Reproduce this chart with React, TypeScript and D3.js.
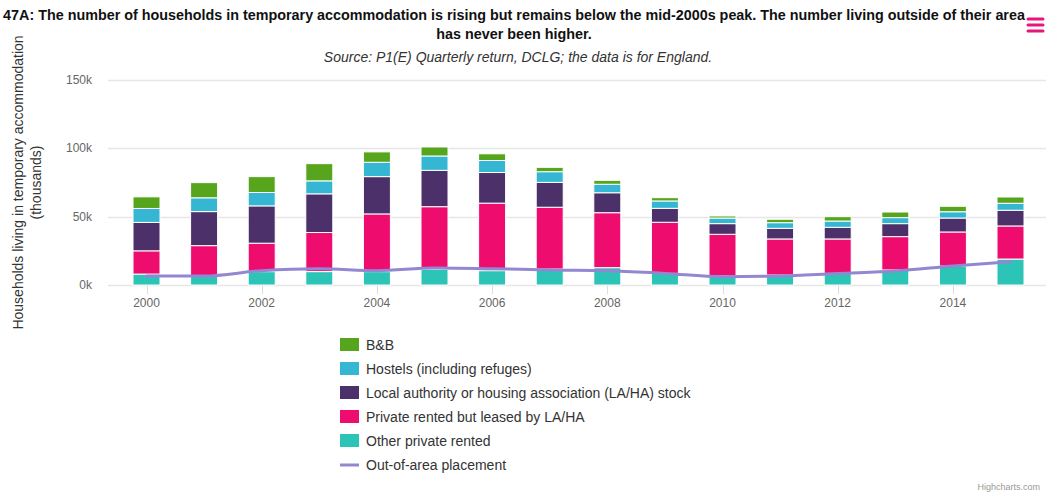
import React, {useRef, useEffect} from 'react';
import * as d3 from 'd3';

const years = [2000, 2001, 2002, 2003, 2004, 2005, 2006, 2007, 2008, 2009, 2010, 2011, 2012, 2013, 2014, 2015];

// thousands of households
const bnb = [8.5, 11.1, 11.6, 12.6, 7.6, 6.6, 4.9, 3.2, 2.9, 2.4, 1.5, 2.5, 3.2, 4.1, 4.0, 4.6];
const hostels = [10.2, 10.1, 9.8, 9.5, 10.5, 10.5, 8.8, 7.8, 6.2, 5.4, 4.1, 4.1, 4.6, 4.4, 4.6, 5.1];
const lahaStock = [20.8, 24.9, 27.3, 28.3, 27.3, 26.6, 22.4, 18.2, 14.6, 10.2, 7.8, 7.8, 8.5, 9.5, 10.2, 11.5];
const leased = [17.0, 22.2, 20.8, 28.6, 42.2, 45.9, 49.4, 45.2, 40.2, 37.4, 30.5, 26.4, 25.2, 24.4, 24.9, 24.2];
const otherPrivate = [8.0, 6.6, 9.8, 9.8, 9.8, 11.4, 10.5, 11.7, 12.7, 8.5, 6.6, 7.3, 8.5, 11.0, 13.9, 19.0];
const outOfArea = [6.6, 6.6, 10.5, 11.9, 10.5, 12.4, 11.9, 11.0, 10.5, 8.5, 6.1, 6.6, 8.5, 10.2, 13.9, 17.1];

const yTicks = [0, 50, 100, 150];
const xTicks = [2000, 2002, 2004, 2006, 2008, 2010, 2012, 2014];

// stacking order, bottom first
const barSeries = [
    {key: 'other', name: 'Other private rented', values: otherPrivate, color: '#2bc4b6'},
    {key: 'leased', name: 'Private rented but leased by LA/HA', values: leased, color: '#ee0c6f'},
    {key: 'laha', name: 'Local authority or housing association (LA/HA) stock', values: lahaStock, color: '#4b3069'},
    {key: 'hostels', name: 'Hostels (including refuges)', values: hostels, color: '#35b6d3'},
    {key: 'bnb', name: 'B&B', values: bnb, color: '#57a51d'},
];
const lineName = 'Out-of-area placement';
const lineColor = '#9188d1';

const WIDTH = 1046;
const HEIGHT = 494;
const FONT = '"Liberation Sans", Arial, Helvetica, sans-serif';

const App: React.FC = () => {
    const svgRef = useRef<SVGSVGElement>(null);

    useEffect(() => {
        if (!svgRef.current) return;
        const svg = d3.select(svgRef.current);
        svg.selectAll('*').remove();

        const plotLeft = 108;
        const plotRight = WIDTH;
        const plotTop = 80;
        const plotBottom = 285;

        const x = d3.scaleLinear().domain([2000, 2015]).range([146.5, 1010.5]);
        const y = d3.scaleLinear().domain([0, 150]).range([plotBottom, plotTop]);
        const barWidth = 27;

        // title + subtitle
        const title = svg.append('text')
            .attr('text-anchor', 'middle')
            .style('font-family', FONT)
            .style('font-size', '14.35px')
            .style('font-weight', 'bold')
            .style('fill', '#111');
        title.append('tspan').attr('x', 514).attr('y', 20)
            .text('47A: The number of households in temporary accommodation is rising but remains below the mid-2000s peak. The number living outside of their area');
        title.append('tspan').attr('x', 514).attr('y', 39)
            .text('has never been higher.');

        svg.append('text')
            .attr('x', 518)
            .attr('y', 62)
            .attr('text-anchor', 'middle')
            .style('font-family', FONT)
            .style('font-size', '14px')
            .style('font-style', 'italic')
            .style('fill', '#333')
            .text('Source: P1(E) Quarterly return, DCLG; the data is for England.');

        // menu button
        const menu = svg.append('g').attr('stroke', '#e8157b').attr('stroke-width', 3).attr('stroke-linecap', 'round');
        [19, 25, 31].forEach(yy => {
            menu.append('line').attr('x1', 1028).attr('x2', 1043).attr('y1', yy).attr('y2', yy);
        });

        // gridlines
        svg.append('g')
            .selectAll('line')
            .data(yTicks)
            .enter()
            .append('line')
            .attr('x1', plotLeft)
            .attr('x2', plotRight)
            .attr('y1', d => Math.round(y(d)) + 0.5)
            .attr('y2', d => Math.round(y(d)) + 0.5)
            .attr('stroke', '#e6e6e6')
            .attr('stroke-width', 1.5);

        svg.append('g')
            .selectAll('text')
            .data(yTicks)
            .enter()
            .append('text')
            .attr('x', 92)
            .attr('y', d => y(d) + 4)
            .attr('text-anchor', 'end')
            .style('font-family', FONT)
            .style('font-size', '12px')
            .style('fill', '#666')
            .text(d => `${d}k`);

        // y axis title
        const yTitle = svg.append('text')
            .attr('transform', `translate(0, ${(plotTop + plotBottom) / 2}) rotate(-90)`)
            .attr('text-anchor', 'middle')
            .style('font-family', FONT)
            .style('font-size', '14px')
            .style('fill', '#333');
        yTitle.append('tspan').attr('x', 0).attr('y', 23).text('Households living in temporary accommodation');
        yTitle.append('tspan').attr('x', 0).attr('y', 41).text('(thousands)');

        // x axis ticks
        const xAxis = svg.append('g');
        xAxis.selectAll('line')
            .data(xTicks)
            .enter()
            .append('line')
            .attr('x1', d => Math.round(x(d)) + 0.5)
            .attr('x2', d => Math.round(x(d)) + 0.5)
            .attr('y1', plotBottom)
            .attr('y2', plotBottom + 9)
            .attr('stroke', '#ddd')
            .attr('stroke-width', 1);
        xAxis.selectAll('text')
            .data(xTicks)
            .enter()
            .append('text')
            .attr('x', d => x(d))
            .attr('y', plotBottom + 22)
            .attr('text-anchor', 'middle')
            .style('font-family', FONT)
            .style('font-size', '12px')
            .style('fill', '#666')
            .text(d => String(d));

        // stacked bars
        const rows = years.map((yr, i) => {
            const row: any = {year: yr};
            barSeries.forEach(s => {
                row[s.key] = s.values[i];
            });
            return row;
        });
        const stacked = d3.stack<any>().keys(barSeries.map(s => s.key))(rows);

        stacked.forEach((layer, li) => {
            svg.append('g')
                .selectAll('rect')
                .data(layer)
                .enter()
                .append('rect')
                .attr('x', d => x(d.data.year) - barWidth / 2)
                .attr('width', barWidth)
                .attr('y', d => y(d[1]))
                .attr('height', d => y(d[0]) - y(d[1]))
                .style('fill', barSeries[li].color)
                .style('stroke', '#fff')
                .style('stroke-width', 1);
        });

        // out-of-area line
        const line = d3.line<number>()
            .x((_, i) => x(years[i]))
            .y(d => y(d))
            .curve(d3.curveMonotoneX);
        svg.append('path')
            .attr('d', line(outOfArea) || '')
            .attr('fill', 'none')
            .attr('stroke', lineColor)
            .attr('stroke-width', 3)
            .attr('stroke-linejoin', 'round')
            .attr('stroke-linecap', 'round');

        // legend
        const legendItems = [...barSeries].reverse();
        const legend = svg.append('g').attr('transform', 'translate(340, 345)');
        legendItems.forEach((s, i) => {
            const item = legend.append('g').attr('transform', `translate(0, ${i * 24})`);
            item.append('rect')
                .attr('x', 0)
                .attr('y', -7)
                .attr('width', 19)
                .attr('height', 13)
                .style('fill', s.color);
            item.append('text')
                .attr('x', 26)
                .attr('y', 5)
                .style('font-family', FONT)
                .style('font-size', '14px')
                .style('fill', '#333')
                .text(s.name);
        });
        const lineItem = legend.append('g').attr('transform', `translate(0, ${legendItems.length * 24})`);
        lineItem.append('line')
            .attr('x1', 0)
            .attr('x2', 19)
            .attr('y1', 0)
            .attr('y2', 0)
            .attr('stroke', lineColor)
            .attr('stroke-width', 3);
        lineItem.append('text')
            .attr('x', 26)
            .attr('y', 5)
            .style('font-family', FONT)
            .style('font-size', '14px')
            .style('fill', '#333')
            .text(lineName);

        // credits
        svg.append('text')
            .attr('x', 1040)
            .attr('y', 490)
            .attr('text-anchor', 'end')
            .style('font-family', FONT)
            .style('font-size', '9px')
            .style('fill', '#999')
            .text('Highcharts.com');
    }, []);

    return (
        <div style={{position: 'absolute', left: 0, top: 0}}>
            <svg ref={svgRef} width={WIDTH} height={HEIGHT} style={{display: 'block', background: '#fff'}}/>
        </div>
    );
};

export default App;
